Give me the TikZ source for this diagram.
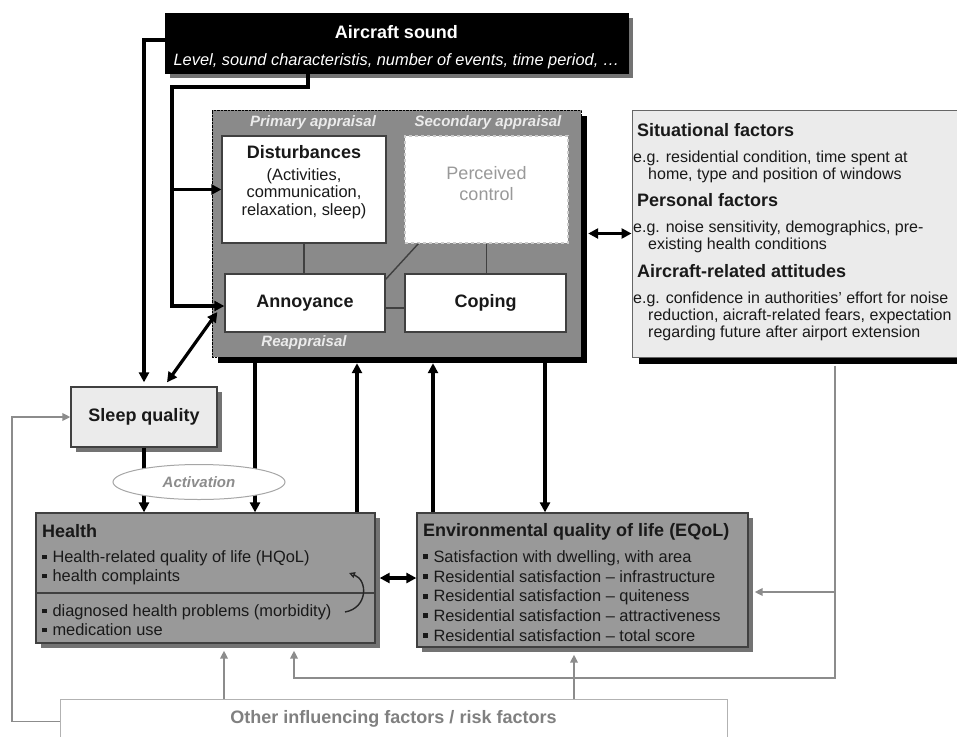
\documentclass[tikz,border=0pt]{standalone}
\usepackage{fontspec}
\setmainfont{Liberation Sans}
\usetikzlibrary{positioning,shapes.geometric,shadows,arrows.meta}
\newcommand\itm{\raisebox{0.2em}{\rule{0.3em}{0.3em}}\hspace{0.33em}}
\newcommand\hd{\fontsize{18}{21}\selectfont\bfseries}

\begin{document}
\begin{tikzpicture}[x=1pt, y=-1pt, font=\fontsize{16.4}{19}\selectfont,
  every node/.style={inner sep=0pt, text=black!90},
  conn/.style={line width=3.2pt, >={Triangle[length=10pt,width=10pt]}},
  gconn/.style={line width=1.8pt, draw=black!45, >={Triangle[length=8pt,width=7.5pt]}},
  link/.style={line width=1.4pt, draw=black!75},
  box/.style={draw=black!75, line width=1.3pt, fill=white},
  lbl/.style={font=\fontsize{15}{18}\selectfont\bfseries\itshape, text=black!8},
  shade/.style={drop shadow={shadow xshift=#1, shadow yshift=-#1, fill=black!55, opacity=1}},
  darkshade/.style={drop shadow={shadow xshift=#1, shadow yshift=-#1, fill=black, opacity=1}}]
  \useasboundingbox (0,0) rectangle (957,736);

  % aircraft sound
  \node[draw=black, fill=black, shade=5pt, minimum width=463pt, minimum height=60pt,
    align=center, text=white] (aircraft) at (396.5,43)
    {\mbox{}\\[2pt]{\hd Aircraft sound}\\[8pt]\itshape Level, sound characteristis, number of events, time period, …};

  % appraisal block
  \node[draw=black, densely dotted, fill=black!46, darkshade=6pt, minimum width=369pt, minimum height=247pt] (apr) at (396.5,233.5) {};
  \node[lbl] (prim) at (313,123) {Primary appraisal};
  \node[lbl] (sec) at (488,123) {Secondary appraisal};
  \node[lbl] (reap) at (304,343) {Reappraisal};
  \node[box, minimum width=164pt, minimum height=107pt, align=center, font=\fontsize{16.4}{17.5}\selectfont] (dist) at (304,189.5)
    {{\hd Disturbances}\\[4pt](Activities,\\communication,\\relaxation, sleep)\\[1pt]\mbox{}};
  \node[box, draw=black!20, dashed, minimum width=163pt, minimum height=107pt, align=center,
    text=black!40, font=\fontsize{18}{21}\selectfont] (perc) at (486.5,189.5) {Perceived\\control\\[-9pt]\mbox{}};
  \node[box, minimum width=160pt, minimum height=58pt, font=\hd] (annoy) at (305,303) {Annoyance};
  \node[box, minimum width=161pt, minimum height=58pt, font=\hd] (coping) at (485.5,303) {Coping};
  \draw[link] (dist.south) -- (dist.south |- annoy.north);
  \draw[link] (perc.south) -- (perc.south |- coping.north);
  \draw[link] ([xshift=14pt]perc.south west) -- ([yshift=-6pt]annoy.north east);
  \draw[link] ([yshift=-5pt]annoy.east) -- ([yshift=-5pt]coping.west);

  % moderators
  \node[draw=black!60, line width=1pt, fill=black!8, darkshade=7pt, minimum width=340pt, minimum height=247pt] (sit) at (802,233.5) {};
  \node[anchor=north west, align=left, font=\fontsize{16}{17}\selectfont] (sittxt) at (633,123) {%
    \hspace*{4pt}{\hd Situational factors}\\[9pt]
    e.g. residential condition, time spent at\\
    \hspace*{15pt}home, type and position of windows\\[10.5pt]
    \hspace*{4pt}{\hd Personal factors}\\[9pt]
    e.g. noise sensitivity, demographics, pre-\\
    \hspace*{15pt}existing health conditions\\[11pt]
    \hspace*{4pt}{\hd Aircraft-related attitudes}\\[9pt]
    e.g. confidence in authorities' effort for noise\\
    \hspace*{15pt}reduction, aicraft-related fears, expectation\\
    \hspace*{15pt}regarding future after airport extension};

  % sleep, health, EQoL
  \node[box, fill=black!8, shade=5pt, minimum width=146pt, minimum height=60pt, font=\hd] (sleep) at (144,417) {Sleep quality};
  \node[draw=black!75, line width=1.3pt, fill=black!40, shade=5pt, minimum width=339pt, minimum height=130pt] (health) at (205.5,578) {};
  \draw[link] ([yshift=-15pt]health.west) -- ([yshift=-15pt]health.east);
  \node[anchor=north west, align=left] (htxt) at (42,524) {%
    {\hd Health}\\[6.5pt]
    \itm Health-related quality of life (HQoL)\\
    \itm health complaints\\[16pt]
    \itm diagnosed health problems (morbidity)\\
    \itm medication use};
  \draw[line width=1.4pt, black!85, -{Triangle[open,length=6pt,width=6pt]}] (345,612) .. controls (368,608) and (368,580) .. (349,573);
  \node[draw=black!75, line width=1.3pt, fill=black!40, shade=5pt, minimum width=331pt, minimum height=134pt] (eqol) at (582.5,580) {};
  \node[anchor=north west, align=left, font=\fontsize{16.4}{19.7}\selectfont] (etxt) at (423,523.5) {%
    {\hd Environmental quality of life (EQoL)}\\[6pt]
    \itm Satisfaction with dwelling, with area\\
    \itm Residential satisfaction -- infrastructure\\
    \itm Residential satisfaction -- quiteness\\
    \itm Residential satisfaction -- attractiveness\\
    \itm Residential satisfaction -- total score};
  \node[draw=black!30, line width=1pt, fill=white, minimum width=667pt, anchor=north, inner ysep=11pt, text depth=30pt,
    font=\hd, text=black!50] (other) at (393.5,699) {Other influencing factors / risk factors};

  % sound arrows
  \draw[conn,->] ([yshift=3pt]aircraft.west) -| ([yshift=4pt]sleep.north);
  \coordinate (split) at (172,87);
  \draw[conn,->] ([xshift=-88.5pt]aircraft.south) |- (split) |- ([yshift=-3pt]annoy.west);
  \draw[conn,->] (split |- dist.west) -- (dist.west);
  \draw[conn,<->] ([xshift=23pt,yshift=4pt]sleep.north) -- ([xshift=-7pt,yshift=-9pt]annoy.west);

  % vertical arrows
  \draw[conn,->] (sleep.south) -- (sleep.south |- health.north);
  \foreach \dx/\tgt/\tip in {-141.5/health/->, -39.5/health/<-, 36.5/eqol/<-, 148.5/eqol/->} {
    \coordinate (foot) at ([xshift=\dx pt,yshift=-6pt]apr.south);
    \draw[conn,\tip] (foot) -- (foot |- \tgt.north);
  }
  \node[ellipse, draw=black!35, line width=1pt, fill=white, minimum width=172pt, minimum height=35pt,
    font=\fontsize{15}{18}\selectfont\bfseries\itshape, text=black!45] (act) at (199,482) {Activation};

  % horizontal double arrows
  \draw[conn,<->] ([xshift=4pt]health.east) -- (health.east -| eqol.west);
  \draw[conn,<->] ([xshift=7pt]apr.east) -- (apr.east -| sit.west);

  % grey influences
  \coordinate (loop) at (835,678);
  \coordinate (sitfoot) at ([yshift=-8pt]sit.south);
  \coordinate (hup) at ([xshift=88.5pt,yshift=-7pt]health.south);
  \coordinate (hin) at ([xshift=18.5pt,yshift=-7pt]health.south);
  \coordinate (eqin) at ([xshift=6pt,yshift=-12pt]eqol.east);
  \coordinate (ein) at ([xshift=-8.5pt,yshift=-7pt]eqol.south);
  \coordinate (lft) at ([xshift=-58pt]sleep.west);
  \draw[gconn,->] (sitfoot -| loop) -- (loop) -| (hup);
  \draw[gconn,->] (eqin -| loop) -- (eqin);
  \draw[gconn,->] (other.north -| hin) -- (hin);
  \draw[gconn,->] (other.north -| ein) -- (ein);
  \draw[gconn,->] ([yshift=10.5pt]other.west) -| (lft) -- (sleep.west);
\end{tikzpicture}
\end{document}
